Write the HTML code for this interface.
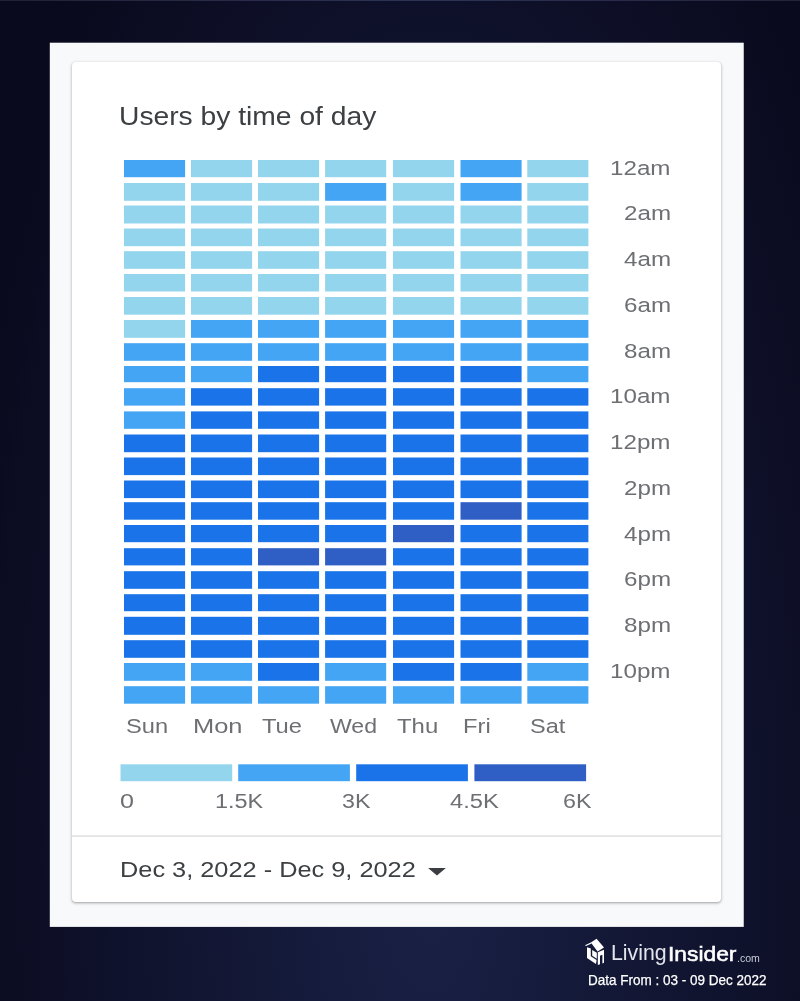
<!DOCTYPE html>
<html lang="en">
<head>
<meta charset="utf-8">
<title>Users by time of day</title>
<style>
html,body{margin:0;padding:0;}
body{width:800px;height:1001px;position:relative;overflow:hidden;
 font-family:"Liberation Sans",Arial,sans-serif;
 background:#0a0a1e;}
.bg{position:absolute;left:0;top:0;width:800px;height:1001px;
 background:radial-gradient(ellipse 480px 1200px at 430px 850px,#192146 0%,#0a0a1e 100%);border-top:1px solid rgba(255,255,255,.09);box-sizing:border-box;}
.panel{position:absolute;left:50px;top:43px;width:693.7px;height:883.5px;background:#f8f9fa;}
.card{position:absolute;left:72px;top:62px;width:649.2px;height:840.3px;background:#fff;border-radius:4px;
 box-shadow:0 1px 2px rgba(60,64,67,.30),0 1px 3px 1px rgba(60,64,67,.15);}
.t{position:absolute;white-space:nowrap;transform-origin:0 0;}
.title{color:#3c4043;}
.lab{color:#6e6f73;}
.date{color:#3c4043;}
.divider{position:absolute;left:72px;top:835px;width:649.5px;height:1.4px;background:#e0e0e0;}
svg{position:absolute;left:0;top:0;}
.ins,.df{color:#fff;}
.lv{color:#e4e5ec;}
.com{color:#c9cbd8;}
</style>
</head>
<body>
<div class="bg"></div>
<svg width="800" height="1001" viewBox="0 0 800 1001"><rect x="49.8" y="42.7" width="693.95" height="884.2" fill="#f8f9fa"/></svg>
<div class="card"></div>
<svg width="800" height="1001" viewBox="0 0 800 1001">
<rect x="124.00" y="160.00" width="61.1" height="17.20" fill="#45a5f5"/>
<rect x="191.00" y="160.00" width="61.1" height="17.20" fill="#93d5ed"/>
<rect x="258.00" y="160.00" width="61.1" height="17.20" fill="#93d5ed"/>
<rect x="325.10" y="160.00" width="61.1" height="17.20" fill="#93d5ed"/>
<rect x="393.00" y="160.00" width="61.1" height="17.20" fill="#93d5ed"/>
<rect x="460.50" y="160.00" width="61.1" height="17.20" fill="#45a5f5"/>
<rect x="527.30" y="160.00" width="61.1" height="17.20" fill="#93d5ed"/>
<rect x="124.00" y="183.00" width="61.1" height="17.80" fill="#93d5ed"/>
<rect x="191.00" y="183.00" width="61.1" height="17.80" fill="#93d5ed"/>
<rect x="258.00" y="183.00" width="61.1" height="17.80" fill="#93d5ed"/>
<rect x="325.10" y="183.00" width="61.1" height="17.80" fill="#45a5f5"/>
<rect x="393.00" y="183.00" width="61.1" height="17.80" fill="#93d5ed"/>
<rect x="460.50" y="183.00" width="61.1" height="17.80" fill="#45a5f5"/>
<rect x="527.30" y="183.00" width="61.1" height="17.80" fill="#93d5ed"/>
<rect x="124.00" y="205.50" width="61.1" height="18.00" fill="#93d5ed"/>
<rect x="191.00" y="205.50" width="61.1" height="18.00" fill="#93d5ed"/>
<rect x="258.00" y="205.50" width="61.1" height="18.00" fill="#93d5ed"/>
<rect x="325.10" y="205.50" width="61.1" height="18.00" fill="#93d5ed"/>
<rect x="393.00" y="205.50" width="61.1" height="18.00" fill="#93d5ed"/>
<rect x="460.50" y="205.50" width="61.1" height="18.00" fill="#93d5ed"/>
<rect x="527.30" y="205.50" width="61.1" height="18.00" fill="#93d5ed"/>
<rect x="124.00" y="228.50" width="61.1" height="17.70" fill="#93d5ed"/>
<rect x="191.00" y="228.50" width="61.1" height="17.70" fill="#93d5ed"/>
<rect x="258.00" y="228.50" width="61.1" height="17.70" fill="#93d5ed"/>
<rect x="325.10" y="228.50" width="61.1" height="17.70" fill="#93d5ed"/>
<rect x="393.00" y="228.50" width="61.1" height="17.70" fill="#93d5ed"/>
<rect x="460.50" y="228.50" width="61.1" height="17.70" fill="#93d5ed"/>
<rect x="527.30" y="228.50" width="61.1" height="17.70" fill="#93d5ed"/>
<rect x="124.00" y="251.20" width="61.1" height="17.60" fill="#93d5ed"/>
<rect x="191.00" y="251.20" width="61.1" height="17.60" fill="#93d5ed"/>
<rect x="258.00" y="251.20" width="61.1" height="17.60" fill="#93d5ed"/>
<rect x="325.10" y="251.20" width="61.1" height="17.60" fill="#93d5ed"/>
<rect x="393.00" y="251.20" width="61.1" height="17.60" fill="#93d5ed"/>
<rect x="460.50" y="251.20" width="61.1" height="17.60" fill="#93d5ed"/>
<rect x="527.30" y="251.20" width="61.1" height="17.60" fill="#93d5ed"/>
<rect x="124.00" y="274.00" width="61.1" height="17.50" fill="#93d5ed"/>
<rect x="191.00" y="274.00" width="61.1" height="17.50" fill="#93d5ed"/>
<rect x="258.00" y="274.00" width="61.1" height="17.50" fill="#93d5ed"/>
<rect x="325.10" y="274.00" width="61.1" height="17.50" fill="#93d5ed"/>
<rect x="393.00" y="274.00" width="61.1" height="17.50" fill="#93d5ed"/>
<rect x="460.50" y="274.00" width="61.1" height="17.50" fill="#93d5ed"/>
<rect x="527.30" y="274.00" width="61.1" height="17.50" fill="#93d5ed"/>
<rect x="124.00" y="297.00" width="61.1" height="17.70" fill="#93d5ed"/>
<rect x="191.00" y="297.00" width="61.1" height="17.70" fill="#93d5ed"/>
<rect x="258.00" y="297.00" width="61.1" height="17.70" fill="#93d5ed"/>
<rect x="325.10" y="297.00" width="61.1" height="17.70" fill="#93d5ed"/>
<rect x="393.00" y="297.00" width="61.1" height="17.70" fill="#93d5ed"/>
<rect x="460.50" y="297.00" width="61.1" height="17.70" fill="#93d5ed"/>
<rect x="527.30" y="297.00" width="61.1" height="17.70" fill="#93d5ed"/>
<rect x="124.00" y="320.00" width="61.1" height="17.80" fill="#93d5ed"/>
<rect x="191.00" y="320.00" width="61.1" height="17.80" fill="#45a5f5"/>
<rect x="258.00" y="320.00" width="61.1" height="17.80" fill="#45a5f5"/>
<rect x="325.10" y="320.00" width="61.1" height="17.80" fill="#45a5f5"/>
<rect x="393.00" y="320.00" width="61.1" height="17.80" fill="#45a5f5"/>
<rect x="460.50" y="320.00" width="61.1" height="17.80" fill="#45a5f5"/>
<rect x="527.30" y="320.00" width="61.1" height="17.80" fill="#45a5f5"/>
<rect x="124.00" y="343.20" width="61.1" height="17.60" fill="#45a5f5"/>
<rect x="191.00" y="343.20" width="61.1" height="17.60" fill="#45a5f5"/>
<rect x="258.00" y="343.20" width="61.1" height="17.60" fill="#45a5f5"/>
<rect x="325.10" y="343.20" width="61.1" height="17.60" fill="#45a5f5"/>
<rect x="393.00" y="343.20" width="61.1" height="17.60" fill="#45a5f5"/>
<rect x="460.50" y="343.20" width="61.1" height="17.60" fill="#45a5f5"/>
<rect x="527.30" y="343.20" width="61.1" height="17.60" fill="#45a5f5"/>
<rect x="124.00" y="366.00" width="61.1" height="16.20" fill="#45a5f5"/>
<rect x="191.00" y="366.00" width="61.1" height="16.20" fill="#45a5f5"/>
<rect x="258.00" y="366.00" width="61.1" height="16.20" fill="#1a73e8"/>
<rect x="325.10" y="366.00" width="61.1" height="16.20" fill="#1a73e8"/>
<rect x="393.00" y="366.00" width="61.1" height="16.20" fill="#1a73e8"/>
<rect x="460.50" y="366.00" width="61.1" height="16.20" fill="#1a73e8"/>
<rect x="527.30" y="366.00" width="61.1" height="16.20" fill="#45a5f5"/>
<rect x="124.00" y="388.20" width="61.1" height="17.40" fill="#45a5f5"/>
<rect x="191.00" y="388.20" width="61.1" height="17.40" fill="#1a73e8"/>
<rect x="258.00" y="388.20" width="61.1" height="17.40" fill="#1a73e8"/>
<rect x="325.10" y="388.20" width="61.1" height="17.40" fill="#1a73e8"/>
<rect x="393.00" y="388.20" width="61.1" height="17.40" fill="#1a73e8"/>
<rect x="460.50" y="388.20" width="61.1" height="17.40" fill="#1a73e8"/>
<rect x="527.30" y="388.20" width="61.1" height="17.40" fill="#1a73e8"/>
<rect x="124.00" y="411.40" width="61.1" height="17.40" fill="#45a5f5"/>
<rect x="191.00" y="411.40" width="61.1" height="17.40" fill="#1a73e8"/>
<rect x="258.00" y="411.40" width="61.1" height="17.40" fill="#1a73e8"/>
<rect x="325.10" y="411.40" width="61.1" height="17.40" fill="#1a73e8"/>
<rect x="393.00" y="411.40" width="61.1" height="17.40" fill="#1a73e8"/>
<rect x="460.50" y="411.40" width="61.1" height="17.40" fill="#1a73e8"/>
<rect x="527.30" y="411.40" width="61.1" height="17.40" fill="#1a73e8"/>
<rect x="124.00" y="434.50" width="61.1" height="17.70" fill="#1a73e8"/>
<rect x="191.00" y="434.50" width="61.1" height="17.70" fill="#1a73e8"/>
<rect x="258.00" y="434.50" width="61.1" height="17.70" fill="#1a73e8"/>
<rect x="325.10" y="434.50" width="61.1" height="17.70" fill="#1a73e8"/>
<rect x="393.00" y="434.50" width="61.1" height="17.70" fill="#1a73e8"/>
<rect x="460.50" y="434.50" width="61.1" height="17.70" fill="#1a73e8"/>
<rect x="527.30" y="434.50" width="61.1" height="17.70" fill="#1a73e8"/>
<rect x="124.00" y="457.50" width="61.1" height="17.60" fill="#1a73e8"/>
<rect x="191.00" y="457.50" width="61.1" height="17.60" fill="#1a73e8"/>
<rect x="258.00" y="457.50" width="61.1" height="17.60" fill="#1a73e8"/>
<rect x="325.10" y="457.50" width="61.1" height="17.60" fill="#1a73e8"/>
<rect x="393.00" y="457.50" width="61.1" height="17.60" fill="#1a73e8"/>
<rect x="460.50" y="457.50" width="61.1" height="17.60" fill="#1a73e8"/>
<rect x="527.30" y="457.50" width="61.1" height="17.60" fill="#1a73e8"/>
<rect x="124.00" y="480.50" width="61.1" height="17.60" fill="#1a73e8"/>
<rect x="191.00" y="480.50" width="61.1" height="17.60" fill="#1a73e8"/>
<rect x="258.00" y="480.50" width="61.1" height="17.60" fill="#1a73e8"/>
<rect x="325.10" y="480.50" width="61.1" height="17.60" fill="#1a73e8"/>
<rect x="393.00" y="480.50" width="61.1" height="17.60" fill="#1a73e8"/>
<rect x="460.50" y="480.50" width="61.1" height="17.60" fill="#1a73e8"/>
<rect x="527.30" y="480.50" width="61.1" height="17.60" fill="#1a73e8"/>
<rect x="124.00" y="502.20" width="61.1" height="17.50" fill="#1a73e8"/>
<rect x="191.00" y="502.20" width="61.1" height="17.50" fill="#1a73e8"/>
<rect x="258.00" y="502.20" width="61.1" height="17.50" fill="#1a73e8"/>
<rect x="325.10" y="502.20" width="61.1" height="17.50" fill="#1a73e8"/>
<rect x="393.00" y="502.20" width="61.1" height="17.50" fill="#1a73e8"/>
<rect x="460.50" y="502.20" width="61.1" height="17.50" fill="#2f5ec4"/>
<rect x="527.30" y="502.20" width="61.1" height="17.50" fill="#1a73e8"/>
<rect x="124.00" y="525.00" width="61.1" height="17.20" fill="#1a73e8"/>
<rect x="191.00" y="525.00" width="61.1" height="17.20" fill="#1a73e8"/>
<rect x="258.00" y="525.00" width="61.1" height="17.20" fill="#1a73e8"/>
<rect x="325.10" y="525.00" width="61.1" height="17.20" fill="#1a73e8"/>
<rect x="393.00" y="525.00" width="61.1" height="17.20" fill="#2f5ec4"/>
<rect x="460.50" y="525.00" width="61.1" height="17.20" fill="#1a73e8"/>
<rect x="527.30" y="525.00" width="61.1" height="17.20" fill="#1a73e8"/>
<rect x="124.00" y="548.20" width="61.1" height="17.20" fill="#1a73e8"/>
<rect x="191.00" y="548.20" width="61.1" height="17.20" fill="#1a73e8"/>
<rect x="258.00" y="548.20" width="61.1" height="17.20" fill="#2f5ec4"/>
<rect x="325.10" y="548.20" width="61.1" height="17.20" fill="#2f5ec4"/>
<rect x="393.00" y="548.20" width="61.1" height="17.20" fill="#1a73e8"/>
<rect x="460.50" y="548.20" width="61.1" height="17.20" fill="#1a73e8"/>
<rect x="527.30" y="548.20" width="61.1" height="17.20" fill="#1a73e8"/>
<rect x="124.00" y="571.20" width="61.1" height="17.60" fill="#1a73e8"/>
<rect x="191.00" y="571.20" width="61.1" height="17.60" fill="#1a73e8"/>
<rect x="258.00" y="571.20" width="61.1" height="17.60" fill="#1a73e8"/>
<rect x="325.10" y="571.20" width="61.1" height="17.60" fill="#1a73e8"/>
<rect x="393.00" y="571.20" width="61.1" height="17.60" fill="#1a73e8"/>
<rect x="460.50" y="571.20" width="61.1" height="17.60" fill="#1a73e8"/>
<rect x="527.30" y="571.20" width="61.1" height="17.60" fill="#1a73e8"/>
<rect x="124.00" y="594.20" width="61.1" height="17.00" fill="#1a73e8"/>
<rect x="191.00" y="594.20" width="61.1" height="17.00" fill="#1a73e8"/>
<rect x="258.00" y="594.20" width="61.1" height="17.00" fill="#1a73e8"/>
<rect x="325.10" y="594.20" width="61.1" height="17.00" fill="#1a73e8"/>
<rect x="393.00" y="594.20" width="61.1" height="17.00" fill="#1a73e8"/>
<rect x="460.50" y="594.20" width="61.1" height="17.00" fill="#1a73e8"/>
<rect x="527.30" y="594.20" width="61.1" height="17.00" fill="#1a73e8"/>
<rect x="124.00" y="616.80" width="61.1" height="18.00" fill="#1a73e8"/>
<rect x="191.00" y="616.80" width="61.1" height="18.00" fill="#1a73e8"/>
<rect x="258.00" y="616.80" width="61.1" height="18.00" fill="#1a73e8"/>
<rect x="325.10" y="616.80" width="61.1" height="18.00" fill="#1a73e8"/>
<rect x="393.00" y="616.80" width="61.1" height="18.00" fill="#1a73e8"/>
<rect x="460.50" y="616.80" width="61.1" height="18.00" fill="#1a73e8"/>
<rect x="527.30" y="616.80" width="61.1" height="18.00" fill="#1a73e8"/>
<rect x="124.00" y="640.20" width="61.1" height="17.60" fill="#1a73e8"/>
<rect x="191.00" y="640.20" width="61.1" height="17.60" fill="#1a73e8"/>
<rect x="258.00" y="640.20" width="61.1" height="17.60" fill="#1a73e8"/>
<rect x="325.10" y="640.20" width="61.1" height="17.60" fill="#1a73e8"/>
<rect x="393.00" y="640.20" width="61.1" height="17.60" fill="#1a73e8"/>
<rect x="460.50" y="640.20" width="61.1" height="17.60" fill="#1a73e8"/>
<rect x="527.30" y="640.20" width="61.1" height="17.60" fill="#1a73e8"/>
<rect x="124.00" y="663.00" width="61.1" height="17.80" fill="#45a5f5"/>
<rect x="191.00" y="663.00" width="61.1" height="17.80" fill="#45a5f5"/>
<rect x="258.00" y="663.00" width="61.1" height="17.80" fill="#1a73e8"/>
<rect x="325.10" y="663.00" width="61.1" height="17.80" fill="#45a5f5"/>
<rect x="393.00" y="663.00" width="61.1" height="17.80" fill="#1a73e8"/>
<rect x="460.50" y="663.00" width="61.1" height="17.80" fill="#1a73e8"/>
<rect x="527.30" y="663.00" width="61.1" height="17.80" fill="#45a5f5"/>
<rect x="124.00" y="686.20" width="61.1" height="17.50" fill="#45a5f5"/>
<rect x="191.00" y="686.20" width="61.1" height="17.50" fill="#45a5f5"/>
<rect x="258.00" y="686.20" width="61.1" height="17.50" fill="#45a5f5"/>
<rect x="325.10" y="686.20" width="61.1" height="17.50" fill="#45a5f5"/>
<rect x="393.00" y="686.20" width="61.1" height="17.50" fill="#45a5f5"/>
<rect x="460.50" y="686.20" width="61.1" height="17.50" fill="#45a5f5"/>
<rect x="527.30" y="686.20" width="61.1" height="17.50" fill="#45a5f5"/>
<rect x="120.5" y="764.3" width="111.7" height="16.9" fill="#93d5ed"/>
<rect x="238.2" y="764.3" width="111.7" height="16.9" fill="#45a5f5"/>
<rect x="356.2" y="764.3" width="111.7" height="16.9" fill="#1a73e8"/>
<rect x="474.4" y="764.3" width="111.7" height="16.9" fill="#2f5ec4"/>
<rect x="72" y="835.3" width="649.4" height="1.6" fill="#e2e2e2"/>
<path d="M428.1 867.9 L445.9 867.9 L437 875.6 Z" fill="#3c3d42"/>
<g id="logo-icon" fill="#fff">
<path d="M590.8 942.6 L596.6 938.8 L604 947.6 L597.6 951.6 Z"/>
<path d="M585 945.2 L590.8 942.4 L591.6 943.4 L586 946 Z"/>
<path d="M587 947.2 L590.8 948.4 L590.8 956.2 L596.6 960 L596 964 L587 958 Z"/>
<path d="M592.2 950 L596.8 952.8 L596.8 958.8 L592.2 955.8 Z"/>
<path d="M597.8 952.2 L604 949.8 L604 962.8 L602.4 963.4 L602.4 954.8 L600 955.7 L600 964.2 L597.8 965 Z"/>
</g>
</svg>
<div class="t title" style="left:119.39px;top:103.90px;font-size:25.4px;line-height:25.4px;transform:scaleX(1.1120);">Users by time of day</div>
<div class="t lab" style="left:610.27px;top:158.55px;font-size:19.9px;line-height:19.9px;transform:scaleX(1.2150);">12am</div>
<div class="t lab" style="left:623.76px;top:203.55px;font-size:19.9px;line-height:19.9px;transform:scaleX(1.2150);">2am</div>
<div class="t lab" style="left:623.76px;top:249.55px;font-size:19.9px;line-height:19.9px;transform:scaleX(1.2150);">4am</div>
<div class="t lab" style="left:623.76px;top:295.55px;font-size:19.9px;line-height:19.9px;transform:scaleX(1.2150);">6am</div>
<div class="t lab" style="left:623.76px;top:341.55px;font-size:19.9px;line-height:19.9px;transform:scaleX(1.2150);">8am</div>
<div class="t lab" style="left:610.27px;top:386.55px;font-size:19.9px;line-height:19.9px;transform:scaleX(1.2150);">10am</div>
<div class="t lab" style="left:610.27px;top:432.55px;font-size:19.9px;line-height:19.9px;transform:scaleX(1.2150);">12pm</div>
<div class="t lab" style="left:623.76px;top:478.55px;font-size:19.9px;line-height:19.9px;transform:scaleX(1.2150);">2pm</div>
<div class="t lab" style="left:623.76px;top:524.55px;font-size:19.9px;line-height:19.9px;transform:scaleX(1.2150);">4pm</div>
<div class="t lab" style="left:623.76px;top:569.55px;font-size:19.9px;line-height:19.9px;transform:scaleX(1.2150);">6pm</div>
<div class="t lab" style="left:623.76px;top:615.55px;font-size:19.9px;line-height:19.9px;transform:scaleX(1.2150);">8pm</div>
<div class="t lab" style="left:610.27px;top:661.55px;font-size:19.9px;line-height:19.9px;transform:scaleX(1.2150);">10pm</div>
<div class="t lab" style="left:126.43px;top:716.55px;font-size:19.9px;line-height:19.9px;transform:scaleX(1.1898);">Sun</div>
<div class="t lab" style="left:193.45px;top:716.55px;font-size:19.9px;line-height:19.9px;transform:scaleX(1.2793);">Mon</div>
<div class="t lab" style="left:261.52px;top:716.55px;font-size:19.9px;line-height:19.9px;transform:scaleX(1.1920);">Tue</div>
<div class="t lab" style="left:329.58px;top:716.55px;font-size:19.9px;line-height:19.9px;transform:scaleX(1.1607);">Wed</div>
<div class="t lab" style="left:396.82px;top:716.55px;font-size:19.9px;line-height:19.9px;transform:scaleX(1.2025);">Thu</div>
<div class="t lab" style="left:462.89px;top:716.55px;font-size:19.9px;line-height:19.9px;transform:scaleX(1.1921);">Fri</div>
<div class="t lab" style="left:530.24px;top:716.55px;font-size:19.9px;line-height:19.9px;transform:scaleX(1.1806);">Sat</div>
<div class="t lab" style="left:120.49px;top:791.55px;font-size:19.9px;line-height:19.9px;transform:scaleX(1.2632);">0</div>
<div class="t lab" style="left:215.03px;top:791.55px;font-size:19.9px;line-height:19.9px;transform:scaleX(1.1786);">1.5K</div>
<div class="t lab" style="left:341.87px;top:791.55px;font-size:19.9px;line-height:19.9px;transform:scaleX(1.1674);">3K</div>
<div class="t lab" style="left:449.52px;top:791.55px;font-size:19.9px;line-height:19.9px;transform:scaleX(1.1911);">4.5K</div>
<div class="t lab" style="left:563.13px;top:791.55px;font-size:19.9px;line-height:19.9px;transform:scaleX(1.1688);">6K</div>
<div class="t date" style="left:119.79px;top:859.12px;font-size:21.6px;line-height:21.6px;transform:scaleX(1.1733);">Dec 3, 2022 - Dec 9, 2022</div>
<div class="t lv" style="left:610.71px;top:943.18px;font-size:21.4px;line-height:21.4px;transform:scaleX(0.9962);">Living</div>
<div class="t ins" style="left:668.24px;top:943.32px;font-size:21.0px;line-height:21.0px;transform:scaleX(1.0855);-webkit-text-stroke:0.55px currentColor;">Insider</div>
<div class="t com" style="left:736.80px;top:952.61px;font-size:10.5px;line-height:10.5px;transform:scaleX(1.0047);">.com</div>
<div class="t df" style="left:587.63px;top:972.73px;font-size:14.5px;line-height:14.5px;transform:scaleX(0.9308);-webkit-text-stroke:0.25px currentColor;">Data From : 03 - 09 Dec 2022</div>
</body>
</html>
